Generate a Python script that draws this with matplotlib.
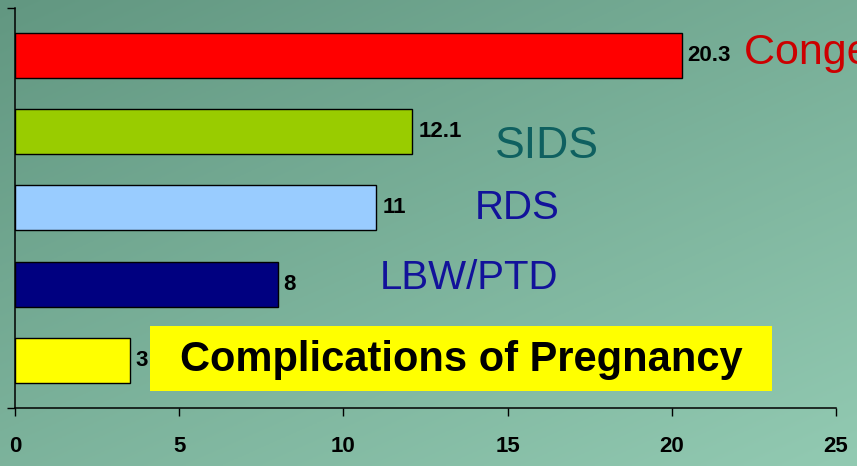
from matplotlib import pyplot as plt
from matplotlib.patches import Rectangle
import numpy as np

# data, top bar first
causes = ['Congenital Anomalies', 'SIDS', 'RDS', 'LBW/PTD', 'Complications of Pregnancy']
rates = [20.3, 12.1, 11.0, 8.0, 3.5]
value_labels = ['20.3', '12.1', '11', '8', '3']
xticks = [0, 5, 10, 15, 20, 25]

# styling
bar_colors = ['#ff0000', '#99cc00', '#99ccff', '#000080', '#ffff00']
label_colors = ['#cc0000', '#0f6060', '#12129a', '#12129a', 'black']
label_sizes = [31, 32, 29, 29, 30]
# where each cause name sits (data x of left edge, offset of baseline from bar centre)
label_pos = [(22.2, -0.11), (14.6, -0.34), (14.0, -0.14), (11.1, -0.06), (13.58, -0.14)]
font = 'Liberation Sans'

fig = plt.figure(figsize=(8.57, 4.66), dpi=100)

# green gradient background
bg = fig.add_axes([0, 0, 1, 1], zorder=0)
yy, xx = np.mgrid[0:1:200j, 0:1:400j]
t = np.clip(0.45 * xx + 0.55 * yy, 0, 1)[..., None]
c0 = np.array([98, 151, 129]) / 255
c1 = np.array([146, 202, 178]) / 255
bg.imshow(c0 + (c1 - c0) * t, aspect='auto', extent=[0, 1, 0, 1], origin='upper')
bg.axis('off')

ax = fig.add_axes([0.0175, 0.1245, 0.958, 0.8584], zorder=1)
ax.set_facecolor('none')

ypos = np.arange(len(causes))[::-1]
ax.barh(ypos, rates, height=0.59, color=bar_colors, edgecolor='black', linewidth=1)

for y, r, v in zip(ypos, rates, value_labels):
    ax.text(r + 0.18, y, v, fontsize=16, fontweight='bold', family=font,
            va='center', ha='left', color='black')

for i, (name, y) in enumerate(zip(causes, ypos)):
    lx, dy = label_pos[i]
    if i == len(causes) - 1:
        ax.add_patch(Rectangle((4.11, -0.397), 18.93, 0.851, facecolor='#ffff00',
                               edgecolor='none', zorder=3, clip_on=False))
        ax.text(lx, y + dy, name, fontsize=label_sizes[i], fontweight='bold',
                family=font, color=label_colors[i], ha='center', va='baseline', zorder=4)
    else:
        ax.text(lx, y + dy, name, fontsize=label_sizes[i], family=font,
                color=label_colors[i], ha='left', va='baseline', clip_on=False)

ax.set_xlim(0, 25)
ax.set_ylim(-0.625, len(causes) - 0.375)
ax.set_xticks(xticks)
ax.set_xticklabels([str(x) for x in xticks], fontsize=16, fontweight='bold', family=font)
ax.set_yticks([-0.625, len(causes) - 0.375])
ax.set_yticklabels([])
ax.tick_params(axis='x', direction='out', length=5.5, width=1, pad=15)
ax.tick_params(axis='y', direction='out', length=6, width=1)
for s in ['top', 'right']:
    ax.spines[s].set_visible(False)
for s in ['left', 'bottom']:
    ax.spines[s].set_linewidth(1.1)

fig.savefig('out.png', dpi=100)
